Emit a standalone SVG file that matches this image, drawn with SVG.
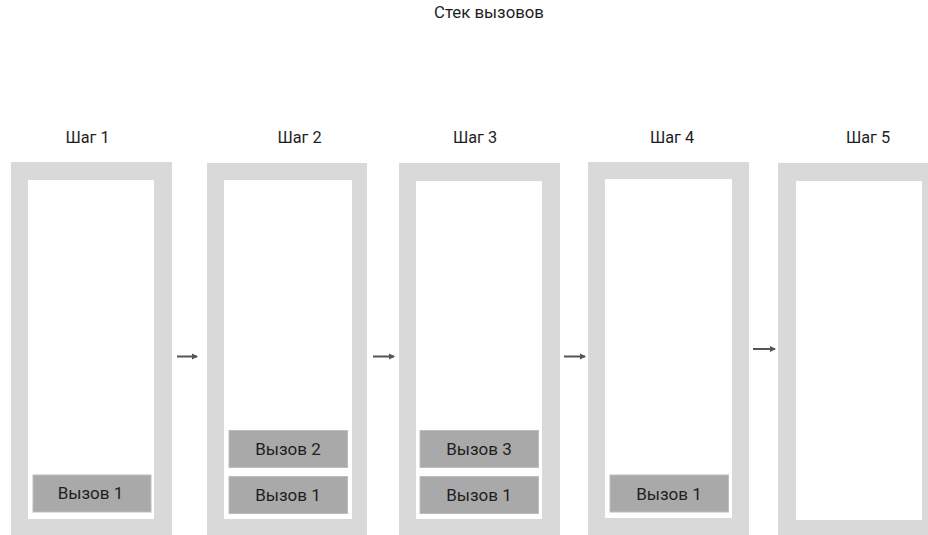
<svg xmlns="http://www.w3.org/2000/svg" width="928" height="535" viewBox="0 0 928 535">
<defs>
<style>
.frame{fill:#d9d9d9}
.inner{fill:#ffffff}
.call{fill:#a9a9a9;stroke:#bdbdbd;stroke-width:1}
.t{font-family:Roboto,"Liberation Sans",sans-serif;fill:#1e1e1e;text-anchor:middle}
.lbl{font-size:16.3px}
.ct{font-size:17px}
.conn{stroke:#555;stroke-width:2;fill:none}
</style>
<marker id="ah" viewBox="0 0 6 6" refX="5" refY="3" markerWidth="3.2" markerHeight="3.2" orient="auto">
<path d="M0,0 L6,3 L0,6 Z" fill="#555"/>
</marker>
</defs>
<rect width="928" height="535" fill="#fff"/>
<text class="t" x="489" y="17.5" font-size="16.8">Стек вызовов</text>
<g id="step1">
<text class="t lbl" x="87.5" y="143.3">Шаг 1</text>
<rect class="frame" x="11" y="162" width="161" height="380"/>
<rect class="inner" x="28" y="180" width="126" height="339"/>
<rect class="call" x="33" y="475" width="118" height="37"/>
<text class="t ct" x="90.5" y="499.3">Вызов 1</text>
</g>
<g id="step2">
<text class="t lbl" x="299.5" y="143.3">Шаг 2</text>
<rect class="frame" x="207" y="163" width="160" height="380"/>
<rect class="inner" x="224" y="180" width="128" height="339"/>
<rect class="call" x="229" y="430.5" width="118.5" height="37"/>
<text class="t ct" x="288" y="455">Вызов 2</text>
<rect class="call" x="229" y="476.5" width="118.5" height="37"/>
<text class="t ct" x="288" y="501">Вызов 1</text>
</g>
<g id="step3">
<text class="t lbl" x="475" y="143.3">Шаг 3</text>
<rect class="frame" x="399" y="163" width="161" height="380"/>
<rect class="inner" x="416" y="181" width="126" height="338"/>
<rect class="call" x="420" y="430.5" width="118.5" height="37"/>
<text class="t ct" x="479" y="455">Вызов 3</text>
<rect class="call" x="420" y="476.5" width="118.5" height="37"/>
<text class="t ct" x="479" y="501">Вызов 1</text>
</g>
<g id="step4">
<text class="t lbl" x="672" y="143.3">Шаг 4</text>
<rect class="frame" x="588" y="162" width="161" height="380"/>
<rect class="inner" x="605" y="179" width="127" height="339"/>
<rect class="call" x="610" y="475" width="118.5" height="37"/>
<text class="t ct" x="669" y="500">Вызов 1</text>
</g>
<g id="step5">
<text class="t lbl" x="868" y="143.3">Шаг 5</text>
<rect class="frame" x="778" y="163" width="165" height="380"/>
<rect class="inner" x="796" y="181" width="126" height="339"/>
</g>
<g id="connectors">
<line class="conn" x1="177" y1="356.5" x2="197" y2="356.5" marker-end="url(#ah)"/>
<line class="conn" x1="373" y1="356.5" x2="394" y2="356.5" marker-end="url(#ah)"/>
<line class="conn" x1="564" y1="356.5" x2="585" y2="356.5" marker-end="url(#ah)"/>
<line class="conn" x1="753" y1="349" x2="775" y2="349" marker-end="url(#ah)"/>
</g>
</svg>
